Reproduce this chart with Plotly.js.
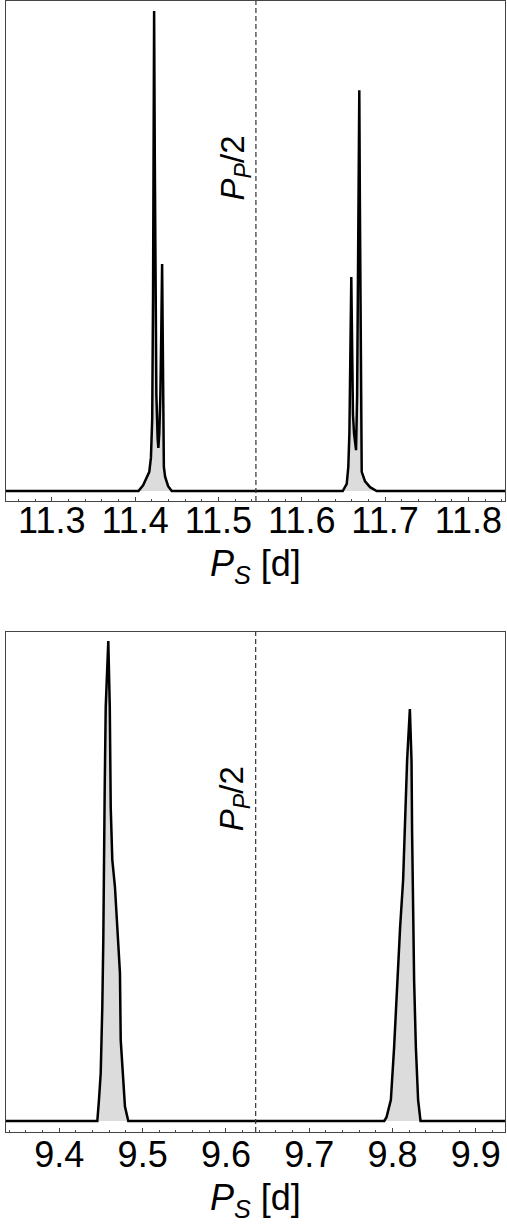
<!DOCTYPE html>
<html>
<head>
<meta charset="utf-8">
<script src="https://cdn.plot.ly/plotly-3.0.1.min.js"></script>
<style>html,body{margin:0;padding:0;background:#fff;}#chart{width:507px;height:1224px;}</style>
</head>
<body>
<div id="chart"></div>
<script>
// ---- Top panel data (P_S in days, normalised density) ----
const topPS = [11.20, 11.404, 11.4096, 11.414, 11.417, 11.419, 11.4205, 11.4215, 11.4222, 11.4228,
  11.4236, 11.4244, 11.4255, 11.4270, 11.4279, 11.4290, 11.4303, 11.4314, 11.4324, 11.4330,
  11.4336, 11.4345, 11.436, 11.4396, 11.444,
  11.6492, 11.654, 11.6559, 11.6572, 11.6582, 11.6595, 11.6605, 11.6615, 11.6628, 11.6640,
  11.6652, 11.6665, 11.6677, 11.6686, 11.6691, 11.6698, 11.6706, 11.6714, 11.672, 11.676,
  11.682, 11.69, 11.90];
const topDensity = [0, 0, 0.012, 0.03, 0.04, 0.07, 0.15, 0.40, 0.75, 1.0,
  0.70, 0.40, 0.20, 0.11, 0.09, 0.12, 0.20, 0.33, 0.473, 0.35,
  0.15, 0.05, 0.03, 0.01, 0,
  0, 0.015, 0.05, 0.12, 0.30, 0.446, 0.30, 0.16, 0.12, 0.10,
  0.085, 0.20, 0.45, 0.70, 0.835, 0.60, 0.30, 0.12, 0.04, 0.02,
  0.008, 0, 0];
const topHalfPP = 11.545;
const topTicks = [11.3, 11.4, 11.5, 11.6, 11.7, 11.8];

// ---- Bottom panel data ----
const botPS = [9.30, 9.4456, 9.4476, 9.4497, 9.4516, 9.4528, 9.4545, 9.4557, 9.4588, 9.4606,
  9.4617, 9.4636, 9.4668, 9.4720, 9.4728, 9.4737, 9.4761, 9.4788, 9.4828,
  9.7900, 9.7928, 9.7980, 9.8019, 9.8055, 9.8091, 9.8127, 9.8151, 9.8175, 9.8208, 9.8228,
  9.8235, 9.8247, 9.8259, 9.8280, 9.8307, 9.8336, 10.00];
const botDensity = [0, 0, 0.044, 0.10, 0.2375, 0.377, 0.696, 0.8625, 1.0, 0.86,
  0.654, 0.544, 0.4875, 0.35, 0.308, 0.169, 0.10, 0.03, 0,
  0, 0.008, 0.044, 0.154, 0.294, 0.404, 0.502, 0.62, 0.752, 0.858, 0.75,
  0.60, 0.404, 0.294, 0.154, 0.044, 0, 0];
const botHalfPP = 9.6357;
const botTicks = [9.4, 9.5, 9.6, 9.7, 9.8, 9.9];

const xTitle = '<i>P</i><sub><i>S</i></sub> [d]';
const lineLabel = '<i>P</i><sub><i>P</i></sub>/2';

const FONT = 'Liberation Sans, Arial, Helvetica, sans-serif';
const FRAME = '#444444';

const traces = [
  {x: topPS, y: topDensity, xaxis: 'x', yaxis: 'y', type: 'scatter', mode: 'lines',
   line: {color: '#000', width: 2.5}, fill: 'tozeroy', fillcolor: '#dcdcdc', hoverinfo: 'skip'},
  {x: botPS, y: botDensity, xaxis: 'x2', yaxis: 'y2', type: 'scatter', mode: 'lines',
   line: {color: '#000', width: 2.5}, fill: 'tozeroy', fillcolor: '#dcdcdc', hoverinfo: 'skip'}
];

function xax(range, ticks, anchor, standoff) {
  return {
    domain: [0, 1], anchor: anchor, range: range,
    tickmode: 'array', tickvals: ticks, ticktext: ticks.map(v => v.toFixed(1)),
    ticks: 'inside', ticklen: 4, tickwidth: 1, tickcolor: FRAME,
    ticklabelstandoff: standoff,
    minor: {ticks: 'inside', ticklen: 2, tickwidth: 1, tickcolor: FRAME, dtick: 0.02, tick0: ticks[0], showgrid: false},
    showline: true, linecolor: FRAME, linewidth: 1, mirror: true,
    showgrid: false, zeroline: false,
    tickfont: {family: FONT, size: 36, color: '#000'}
  };
}
function yax(range, domain, anchor) {
  return {
    domain: domain, anchor: anchor, range: range,
    showticklabels: false, ticks: '', showline: true, linecolor: FRAME, linewidth: 1, mirror: true,
    showgrid: false, zeroline: false
  };
}

const layout = {
  width: 507, height: 1224,
  margin: {l: 6, r: 2, t: 1, b: 92},
  paper_bgcolor: '#fff', plot_bgcolor: '#fff',
  showlegend: false,
  xaxis: xax([11.245, 11.844], topTicks, 'y', -12),
  yaxis: yax([-10/480, 490/480], [0.5579, 1], 'x'),
  xaxis2: xax([9.336, 9.935], botTicks, 'y2', -9),
  yaxis2: yax([-11/480, 489/480], [0, 0.4421], 'x2'),
  shapes: [
    {type: 'line', xref: 'x', yref: 'y domain', x0: topHalfPP, x1: topHalfPP, y0: 0, y1: 1,
     line: {color: '#333', width: 1.2, dash: '5px,3px'}, layer: 'above'},
    {type: 'line', xref: 'x2', yref: 'y2 domain', x0: botHalfPP, x1: botHalfPP, y0: 0, y1: 1,
     line: {color: '#333', width: 1.2, dash: '5px,3px'}, layer: 'above'}
  ],
  annotations: [
    {xref: 'x', yref: 'y domain', x: topHalfPP, y: 0.667, xshift: -21, text: lineLabel,
     textangle: -90, showarrow: false, xanchor: 'center', yanchor: 'middle',
     font: {family: FONT, size: 33, color: '#000'}},
    {xref: 'x2', yref: 'y2 domain', x: botHalfPP, y: 0.667, xshift: -21, text: lineLabel,
     textangle: -90, showarrow: false, xanchor: 'center', yanchor: 'middle',
     font: {family: FONT, size: 33, color: '#000'}},
    {xref: 'x domain', yref: 'paper', x: 0.5, y: (1132 - 566) / 1131, text: xTitle,
     showarrow: false, xanchor: 'center', yanchor: 'middle',
     font: {family: FONT, size: 36, color: '#000'}},
    {xref: 'x2 domain', yref: 'paper', x: 0.5, y: (1132 - 1224) / 1131, text: xTitle,
     showarrow: false, xanchor: 'center', yanchor: 'bottom', borderpad: 0,
     font: {family: FONT, size: 36, color: '#000'}}
  ]
};

Plotly.newPlot('chart', traces, layout, {staticPlot: true, displayModeBar: false});
</script>
</body>
</html>
